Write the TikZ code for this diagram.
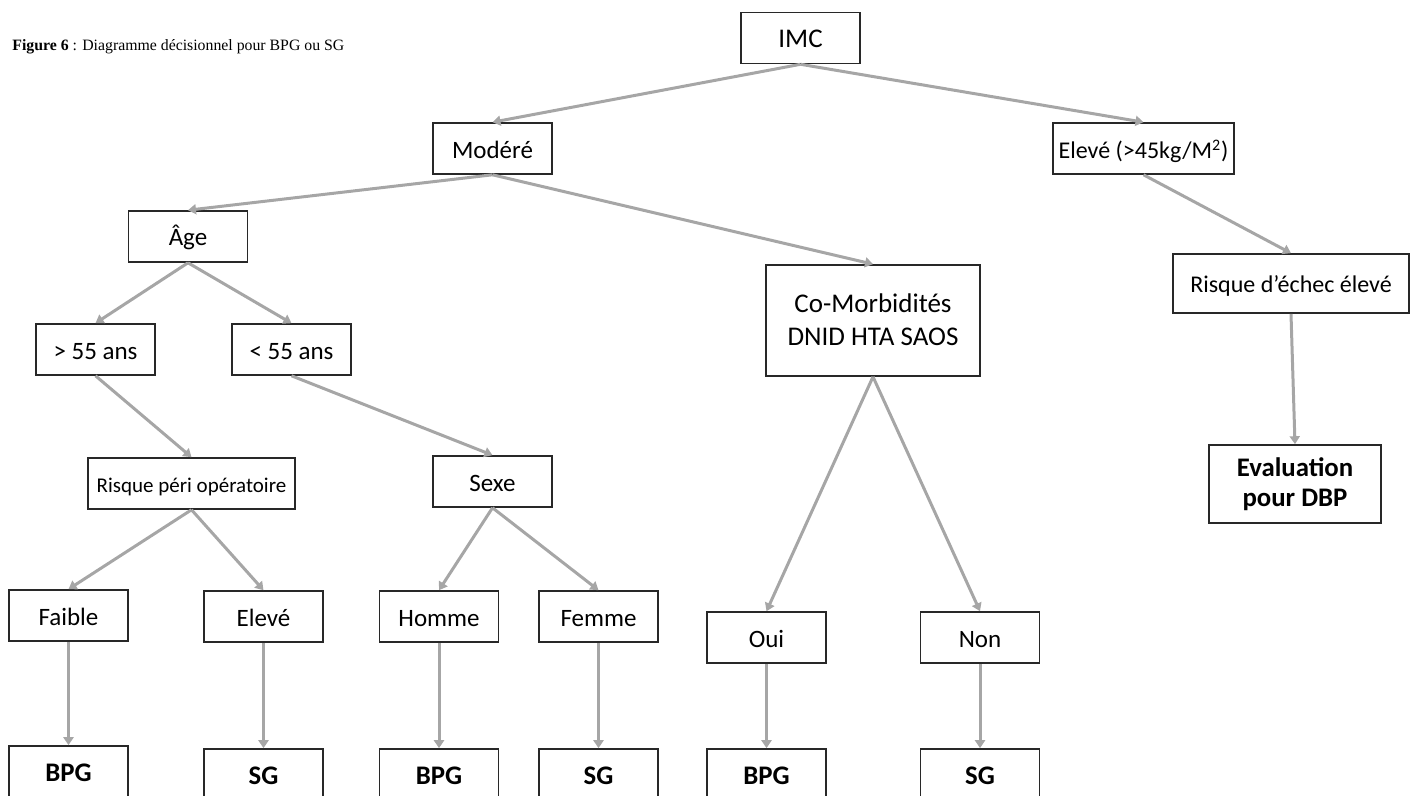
\documentclass[tikz,border=0pt]{standalone}
\usepackage{fontspec}
\setmainfont{Carlito}
\newfontfamily\titlefont{Liberation Serif}
\usetikzlibrary{arrows.meta}
\definecolor{linegray}{RGB}{166,166,166}
\definecolor{boxline}{RGB}{40,40,40}
\tikzset{
  box/.style={draw=boxline, line width=0.8pt, fill=white, inner sep=0pt, align=center,
    minimum width=59.5pt, minimum height=25.5pt, font=\fontsize{12.5}{15}\selectfont,
    execute at begin node={\rule[-1pt]{0pt}{12pt}}},
  res/.style={box, font=\bfseries\fontsize{13.4}{15}\selectfont},
  conn/.style={draw=linegray, line width=1.5pt, -{Triangle[length=4pt,width=5pt]}}
}
\begin{document}
\begin{tikzpicture}[x=0.5pt,y=-0.5pt]
\useasboundingbox (0,0) rectangle (1410,796);
\node[anchor=west, inner sep=0pt, font=\titlefont\fontsize{7.9}{10}\selectfont] (title) at (12,47) {\textbf{Figure 6} : Diagramme décisionnel pour BPG ou SG};

\node[box, font=\fontsize{13.5}{16}\selectfont] (imc) at (800.5,38) {IMC};
\node[box] (mod) at (492.5,148.5) {Modéré};
\node[box, minimum width=90.5pt, font=\fontsize{12}{14}\selectfont] (elv) at (1143.5,148.5) {\raisebox{-1.5pt}{Elevé (>45kg/M\textsuperscript{2})}};
\node[box] (age) at (188,236.5) {Âge};
\node[box] (gt) at (95.5,349.5) {> 55 ans};
\node[box] (lt) at (291.5,349.5) {< 55 ans};
\node[box, minimum width=103.5pt, font=\fontsize{10.5}{12.5}\selectfont] (rpo) at (191.5,483.5) {Risque péri opératoire};
\node[box] (sexe) at (492.5,481.5) {Sexe};
\node[box, minimum width=107pt, minimum height=55.5pt, font=\fontsize{13.5}{16.5}\selectfont] (com) at (873,320.5) {Co-Morbidités\\DNID HTA SAOS};
\node[box] (oui) at (766.5,637.5) {Oui};
\node[box] (non) at (980,637.5) {Non};
\node[box, minimum width=118pt, minimum height=29.5pt, font=\fontsize{12}{14}\selectfont] (rech) at (1291,283.5) {Risque d’échec élevé};
\node[res, minimum width=86pt, minimum height=39pt] (eval) at (1295,484) {Evaluation\\pour DBP};
\node[box] (faible) at (68.5,615.5) {Faible};
\node[box] (elev) at (263.5,616.5) {Elevé};
\node[box] (homme) at (439,616.5) {Homme};
\node[box] (femme) at (598.5,616.5) {Femme};
\node[res] (bpga) at (68.5,771.5) {BPG};
\node[res] (sga) at (263.5,774.5) {SG};
\node[res] (bpgb) at (439,774.5) {BPG};
\node[res] (sgb) at (598.5,774.5) {SG};
\node[res] (bpgc) at (766.5,774.5) {BPG};
\node[res] (sgc) at (980,774.5) {SG};

\draw[conn] (imc.south) -- (mod.north);
\draw[conn] (imc.south) -- (elv.north);
\draw[conn] (mod.south) -- (age.north);
\draw[conn] (mod.south) -- (com.north);
\draw[conn] (elv.south) -- (rech.north);
\draw[conn] (rech.south) -- (eval.north);
\draw[conn] (age.south) -- (gt.north);
\draw[conn] (age.south) -- (lt.north);
\draw[conn] (gt.south) -- (rpo.north);
\draw[conn] (lt.south) -- (sexe.north);
\draw[conn] (rpo.south) -- (faible.north);
\draw[conn] (rpo.south) -- (elev.north);
\draw[conn] (sexe.south) -- (homme.north);
\draw[conn] (sexe.south) -- (femme.north);
\draw[conn] (com.south) -- (oui.north);
\draw[conn] (com.south) -- (non.north);
\draw[conn] (faible.south) -- (bpga.north);
\draw[conn] (elev.south) -- (sga.north);
\draw[conn] (homme.south) -- (bpgb.north);
\draw[conn] (femme.south) -- (sgb.north);
\draw[conn] (oui.south) -- (bpgc.north);
\draw[conn] (non.south) -- (sgc.north);
\end{tikzpicture}
\end{document}
